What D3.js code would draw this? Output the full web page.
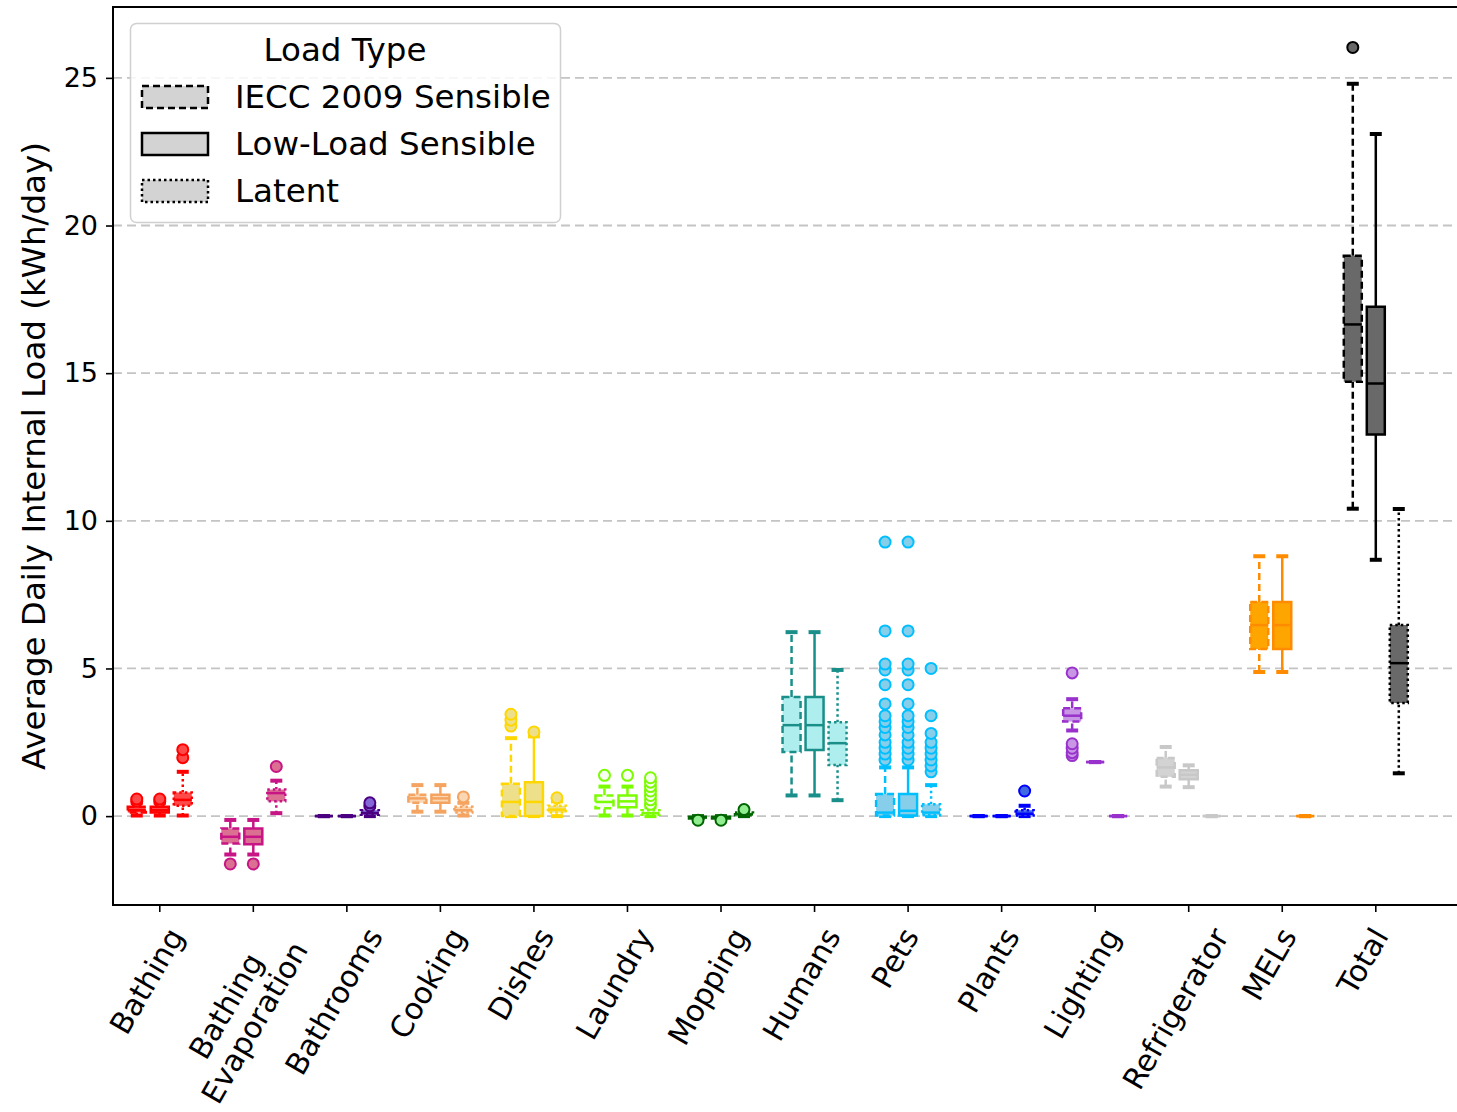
<!DOCTYPE html>
<html>
<head>
<meta charset="utf-8">
<script src="https://cdn.jsdelivr.net/npm/d3@7"></script>
<style>
  body { margin: 0; background: #fff; }
  svg { display: block; }
  text { font-family: "DejaVu Sans", sans-serif; fill: #000; }
</style>
</head>
<body>
<div id="chart"></div>
<script>
// box stats: [whiskerLow, q1, median, q3, whiskerHigh, outliers]
const categories = ["Bathing", "Bathing\nEvaporation", "Bathrooms", "Cooking", "Dishes", "Laundry",
    "Mopping", "Humans", "Pets", "Plants", "Lighting", "Refrigerator", "MELs", "Total"];

const ieccSensible = [
    [0.02, 0.12, 0.2, 0.32, 0.45, [0.5, 0.58]],
    [-1.3, -0.93, -0.7, -0.42, -0.13, [-1.62]],
    [0, 0, 0, 0, 0, []],
    [0.15, 0.45, 0.6, 0.72, 1.05, []],
    [0.0, 0.0, 0.48, 1.1, 2.64, [3.05, 3.25, 3.45]],
    [0.02, 0.27, 0.48, 0.7, 1.0, [1.38]],
    [-0.12, -0.08, -0.05, -0.02, 0.0, [-0.14]],
    [0.7, 2.17, 3.08, 4.03, 6.23, []],
    [0.0, 0.02, 0.12, 0.75, 1.65, [1.9, 2.1, 2.3, 2.5, 2.75, 3.0, 3.2, 3.4, 3.8, 4.45, 4.95, 5.15, 6.27, 9.28]],
    [0, 0, 0, 0, 0, []],
    [2.9, 3.2, 3.4, 3.65, 3.96, [2.05, 2.15, 2.3, 2.45, 4.85]],
    [1.0, 1.33, 1.65, 1.97, 2.34, []],
    [4.88, 5.66, 6.47, 7.25, 8.8, []],
    [10.41, 14.71, 16.65, 18.98, 24.8, [26.03]]
];

const lowLoadSensible = [
    [0.02, 0.12, 0.2, 0.32, 0.45, [0.5, 0.58]],
    [-1.3, -0.95, -0.7, -0.42, -0.13, [-1.62]],
    [0, 0, 0, 0, 0, []],
    [0.15, 0.45, 0.6, 0.72, 1.05, []],
    [0.0, 0.0, 0.48, 1.15, 2.7, [2.85]],
    [0.02, 0.3, 0.5, 0.7, 1.0, [1.38]],
    [-0.12, -0.08, -0.05, -0.02, 0.0, [-0.14]],
    [0.7, 2.24, 3.08, 4.03, 6.23, []],
    [0.0, 0.02, 0.18, 0.75, 1.65, [1.9, 2.1, 2.3, 2.5, 2.75, 3.0, 3.2, 3.4, 3.8, 4.45, 4.95, 5.15, 6.27, 9.28]],
    [0, 0, 0, 0, 0, []],
    [1.83, 1.83, 1.83, 1.83, 1.83, []],
    [0.98, 1.25, 1.4, 1.55, 1.72, []],
    [4.88, 5.66, 6.47, 7.25, 8.8, []],
    [8.68, 12.92, 14.65, 17.25, 23.1, []]
];

const latent = [
    [0.02, 0.35, 0.55, 0.8, 1.5, [1.98, 2.25]],
    [0.1, 0.5, 0.78, 0.9, 1.2, [1.68]],
    [0.0, 0.05, 0.1, 0.2, 0.3, [0.35, 0.45]],
    [0.02, 0.12, 0.2, 0.32, 0.45, [0.65]],
    [0.0, 0.12, 0.22, 0.35, 0.5, [0.62]],
    [0.0, 0.05, 0.1, 0.2, 0.3, [0.4, 0.55, 0.7, 0.85, 1.0, 1.15, 1.3]],
    [0.0, 0.03, 0.06, 0.12, 0.15, [0.22]],
    [0.54, 1.73, 2.47, 3.18, 4.95, []],
    [0.0, 0.03, 0.12, 0.4, 1.05, [1.5, 1.7, 1.9, 2.1, 2.3, 2.5, 2.8, 3.4, 5.0]],
    [0.0, 0.02, 0.08, 0.2, 0.35, [0.85]],
    [0, 0, 0, 0, 0, []],
    [0, 0, 0, 0, 0, []],
    [0, 0, 0, 0, 0, []],
    [1.45, 3.83, 5.18, 6.47, 10.4, []]
];

const yTicks = [0, 5, 10, 15, 20, 25];

const edgeColors = ["#ff0000", "#c71585", "#4b0082", "#f4a460", "#ffd700", "#7cfc00", "#006400",
    "#1a8f8a", "#00bfff", "#0000ff", "#9932cc", "#c8c8c8", "#ff8c00", "#000000"];
const fillColors = ["#ff4a4a", "#db7093", "#8466d6", "#fbd6b2", "#eee08a", "#f6fff0", "#90ee90",
    "#afeeee", "#87ceeb", "#4169e1", "#c896e4", "#d3d3d3", "#ffa500", "#696969"];

const series = [
    { key: "iecc", label: "IECC 2009 Sensible", dash: "7,4", stats: ieccSensible },
    { key: "low", label: "Low-Load Sensible", dash: null, stats: lowLoadSensible },
    { key: "latent", label: "Latent", dash: "2.5,3", stats: latent }
];

const W = 1457, H = 1112;
const margin = { top: 7, left: 113, bottom: 905 };

const svg = d3.select("#chart").append("svg")
    .attr("width", W)
    .attr("height", H);

const x = d3.scaleBand()
    .domain(categories)
    .range([113, 113 + 14 * 93.54]);

const sub = d3.scaleBand()
    .domain(series.map(s => s.key))
    .range([-34.5, 34.5]);

const y = d3.scaleLinear()
    .domain([-3.01, 27.4])
    .range([margin.bottom, margin.top]);

// grid
svg.append("g")
    .selectAll("line")
    .data(yTicks)
    .enter().append("line")
    .attr("x1", margin.left).attr("x2", W)
    .attr("y1", d => y(d)).attr("y2", d => y(d))
    .attr("stroke", "#c4c4c4")
    .attr("stroke-width", 1.8)
    .attr("stroke-dasharray", "9,5");

const boxW = 18, capW = 12;

const plot = svg.append("g");
series.forEach(s => {
    s.stats.forEach((st, i) => {
        const [lo, q1, med, q3, hi, outs] = st;
        const cx = x(categories[i]) + x.bandwidth() / 2 + sub(s.key) + sub.bandwidth() / 2;
        const edge = edgeColors[i], fill = fillColors[i];
        const g = plot.append("g");

        // whiskers
        g.append("line")
            .attr("x1", cx).attr("x2", cx)
            .attr("y1", y(lo)).attr("y2", y(q1))
            .attr("stroke", edge).attr("stroke-width", 2.5)
            .attr("stroke-dasharray", s.dash);
        g.append("line")
            .attr("x1", cx).attr("x2", cx)
            .attr("y1", y(q3)).attr("y2", y(hi))
            .attr("stroke", edge).attr("stroke-width", 2.5)
            .attr("stroke-dasharray", s.dash);

        // caps
        [lo, hi].forEach(v => {
            g.append("line")
                .attr("x1", cx - capW / 2).attr("x2", cx + capW / 2)
                .attr("y1", y(v)).attr("y2", y(v))
                .attr("stroke", edge).attr("stroke-width", 4);
        });

        // box
        const x0 = cx - boxW / 2, x1 = cx + boxW / 2;
        g.append("path")
            .attr("d", `M${x0},${y(q3)}H${x1}V${y(q1)}H${x0}Z`)
            .attr("fill", fill)
            .attr("stroke", edge)
            .attr("stroke-width", 2.5)
            .attr("stroke-dasharray", s.dash);

        // median
        g.append("line")
            .attr("x1", x0).attr("x2", x1)
            .attr("y1", y(med)).attr("y2", y(med))
            .attr("stroke", edge).attr("stroke-width", 2.5);

        // fliers
        g.selectAll("circle")
            .data(outs)
            .enter().append("circle")
            .attr("cx", cx)
            .attr("cy", d => y(d))
            .attr("r", 5.5)
            .attr("fill", fill)
            .attr("stroke", edge)
            .attr("stroke-width", 2);
    });
});

// frame
svg.append("rect")
    .attr("x", margin.left).attr("y", margin.top)
    .attr("width", W + 10 - margin.left)
    .attr("height", margin.bottom - margin.top)
    .attr("fill", "none")
    .attr("stroke", "#000")
    .attr("stroke-width", 2);

// y axis
const yAxis = svg.append("g")
    .attr("transform", `translate(${margin.left},0)`)
    .call(d3.axisLeft(y).tickValues(yTicks).tickSize(7).tickPadding(8));
yAxis.select(".domain").remove();
yAxis.selectAll(".tick line").attr("stroke", "#000").attr("stroke-width", 1.6);
yAxis.selectAll(".tick text")
    .style("font-family", "DejaVu Sans")
    .style("font-size", "27px")
    .attr("fill", "#000");

// x axis: labels rotated 60deg, rotated box centred under the tick
const fs = 30, lineH = 1.1 * fs;
const xAxis = svg.append("g")
    .attr("transform", `translate(0,${margin.bottom})`)
    .call(d3.axisBottom(x).tickSize(7).tickFormat(""));
xAxis.select(".domain").remove();
xAxis.selectAll(".tick line").attr("stroke", "#000").attr("stroke-width", 1.6);
xAxis.selectAll(".tick").each(function (d) {
    const lines = d.split("\n");
    const t = d3.select(this).append("text")
        .attr("text-anchor", "middle")
        .style("font-size", fs + "px")
        .style("font-family", "DejaVu Sans")
        .attr("fill", "#000");
    lines.forEach((line, k) => {
        t.append("tspan")
            .attr("x", 0)
            .attr("y", (k - (lines.length - 1) / 2) * lineH)
            .attr("dy", "0.35em")
            .text(line);
    });
    let L = 0;
    t.selectAll("tspan").each(function () { L = Math.max(L, this.getComputedTextLength()); });
    const h = 1.17 * fs + lineH * (lines.length - 1);
    const boxH = L * Math.sin(Math.PI / 3) + h * 0.5;
    const shiftY = lines.length > 1 ? 14 : 17;
    t.attr("transform", `translate(-13,${shiftY + boxH / 2}) rotate(-60)`);
});

// y title
svg.append("text")
    .attr("transform", "translate(33,456) rotate(-90)")
    .attr("text-anchor", "middle")
    .attr("dy", "0.36em")
    .style("font-size", "32.5px")
    .text("Average Daily Internal Load (kWh/day)");

// legend
const legend = svg.append("g");
legend.append("rect")
    .attr("x", 130.5).attr("y", 23.5)
    .attr("width", 430).attr("height", 199)
    .attr("rx", 6)
    .attr("fill", "#fff").attr("fill-opacity", 0.85)
    .attr("stroke", "#d0d0d0").attr("stroke-width", 1.5);
legend.append("text")
    .attr("x", 345).attr("y", 61)
    .attr("text-anchor", "middle")
    .style("font-size", "32.5px")
    .text("Load Type");
series.forEach((s, k) => {
    const ly = 86 + k * 47;
    legend.append("rect")
        .attr("x", 142).attr("y", ly)
        .attr("width", 66).attr("height", 22)
        .attr("fill", "#d3d3d3")
        .attr("stroke", "#000")
        .attr("stroke-width", 2.5)
        .attr("stroke-dasharray", s.dash);
    legend.append("text")
        .attr("x", 235).attr("y", ly + 22)
        .style("font-size", "32.5px")
        .text(s.label);
});
</script>
</body>
</html>
